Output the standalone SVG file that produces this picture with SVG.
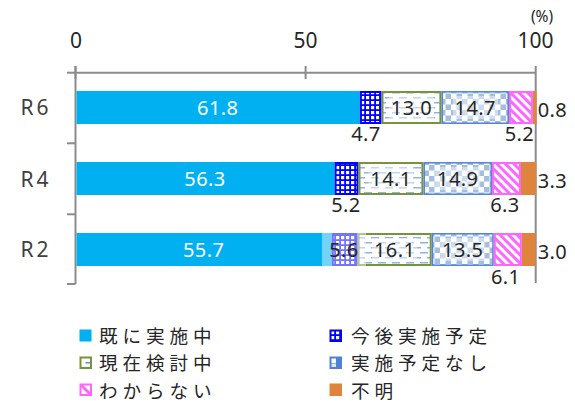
<svg xmlns="http://www.w3.org/2000/svg" width="575" height="403" viewBox="0 0 575 403">
<style>
.ax{stroke:#8C8C8C;stroke-width:2;fill:none}
.num{font-family:"Noto Sans","Liberation Sans",sans-serif;font-size:20px;fill:#262626;text-anchor:middle;letter-spacing:0.4px}
.wnum{font-family:"Noto Sans","Liberation Sans",sans-serif;font-size:20px;fill:#fff;text-anchor:middle;letter-spacing:0.4px}
.axl{font-family:"Noto Sans","Liberation Sans",sans-serif;font-size:21px;fill:#262626;text-anchor:middle}
.cat{font-family:"Noto Sans","Liberation Sans",sans-serif;font-size:21px;fill:#404040;text-anchor:middle;letter-spacing:3px}
.leg{font-family:"Noto Sans CJK JP","Noto Sans",sans-serif;font-size:18.6px;fill:#262626;letter-spacing:4.9px}
.lb{fill:#fff;fill-opacity:0.45}
.s1{fill:#00B0F0}
.s2{fill:url(#pGrid);stroke:#0000FF;stroke-width:2}
.s3{fill:url(#pDash);stroke:#77933C;stroke-width:2}
.s4{fill:url(#pCheck);stroke:#4F81D6;stroke-width:1.5}
.s5{fill:url(#pDiag);stroke:#FF66FF;stroke-width:2}
.s6{fill:#DE843C}
</style>
<defs>
<pattern id="pGrid" width="5" height="5" patternUnits="userSpaceOnUse"><rect width="5" height="5" fill="#0000FF"/><rect x="1" y="1" width="3.2" height="3.2" fill="#fff"/></pattern>
<pattern id="pDash" width="14" height="10" patternUnits="userSpaceOnUse"><rect width="14" height="10" fill="#fff"/><rect x="0" y="2" width="8" height="1.5" fill="#8EB4E3"/><rect x="7" y="7" width="7" height="1.5" fill="#8EB4E3"/><rect x="0" y="7" width="1" height="1.5" fill="#8EB4E3"/></pattern>
<pattern id="pCheck" width="11" height="11" patternUnits="userSpaceOnUse"><rect width="11" height="11" fill="#fff"/><rect width="5.5" height="5.5" fill="#A3BEE1"/><rect x="5.5" y="5.5" width="5.5" height="5.5" fill="#A3BEE1"/></pattern>
<pattern id="pDiag" width="6" height="6" patternUnits="userSpaceOnUse" patternTransform="rotate(-45)"><rect width="6" height="6" fill="#fff"/><rect width="3" height="6" fill="#FF66FF"/></pattern>
</defs>

<g id="axes">
<line class="ax" x1="75.5" y1="72.7" x2="535.7" y2="72.7"/>
<line class="ax" x1="75.5" y1="66" x2="75.5" y2="79"/>
<line class="ax" x1="305.6" y1="66" x2="305.6" y2="79"/>
<line class="ax" x1="535.7" y1="66" x2="535.7" y2="283"/>
<line class="ax" x1="75.5" y1="66" x2="75.5" y2="284"/>
<line class="ax" x1="67" y1="72.7" x2="75.5" y2="72.7"/>
<line class="ax" x1="67" y1="143.3" x2="75.5" y2="143.3"/>
<line class="ax" x1="67" y1="214.3" x2="75.5" y2="214.3"/>
<line class="ax" x1="67" y1="284" x2="75.5" y2="284"/>
<text class="axl" x="76" y="48">0</text>
<text class="axl" x="305.6" y="48">50</text>
<text class="axl" x="535.5" y="48">100</text>
<text class="axl" x="542" y="21.5" style="font-size:15.5px">(%)</text>
<text class="cat" x="36" y="115">R6</text>
<text class="cat" x="36" y="186.5">R4</text>
<text class="cat" x="36" y="257">R2</text>
</g>

<g id="connectors"></g>

<g id="bar-R6">
<rect class="s1" x="76.5" y="91" width="283.4" height="33"/>
<rect class="s2" x="360.9" y="92" width="19.6" height="31"/>
<rect class="s3" x="382.5" y="92" width="57.9" height="31"/>
<rect class="s4" x="442.2" y="91.8" width="66" height="31.4"/>
<rect class="s5" x="510" y="92" width="21.9" height="31"/>
<rect class="s6" x="532.9" y="91" width="3.7" height="33"/>
<text class="wnum" x="217.7" y="114.5">61.8</text>
<rect class="lb" x="389" y="96" width="45" height="23"/>
<text class="num" x="411.5" y="114.5">13.0</text>
<rect class="lb" x="453" y="96" width="45" height="23"/>
<text class="num" x="475.2" y="114.5">14.7</text>
<text class="num" x="366" y="141">4.7</text>
<text class="num" x="519.5" y="141">5.2</text>
<text class="num" x="552.5" y="117">0.8</text>
</g>

<g id="bar-R4">
<rect class="s1" x="76.5" y="162" width="258.1" height="33"/>
<rect class="s2" x="335.6" y="163" width="21.9" height="31"/>
<rect class="s3" x="359.5" y="163" width="62.9" height="31"/>
<rect class="s4" x="424.2" y="162.8" width="67" height="31.4"/>
<rect class="s5" x="493" y="163" width="27" height="31"/>
<rect class="s6" x="521" y="162" width="15.2" height="33"/>
<text class="wnum" x="205" y="185.5">56.3</text>
<rect class="lb" x="368.5" y="167" width="45" height="23"/>
<text class="num" x="391" y="185.5">14.1</text>
<rect class="lb" x="435.2" y="167" width="45" height="23"/>
<text class="num" x="457.7" y="185.5">14.9</text>
<text class="num" x="346" y="212">5.2</text>
<text class="num" x="505" y="212">6.3</text>
<text class="num" x="552.5" y="188">3.3</text>
</g>

<g id="bar-R2">
<rect class="s1" x="76.5" y="233" width="255.3" height="33"/>
<rect class="s2" x="332.8" y="234" width="23.8" height="31"/>
<rect class="s3" x="358.6" y="234" width="72.1" height="31"/>
<rect class="s4" x="432.5" y="233.8" width="60.5" height="31.4"/>
<rect class="s5" x="494.8" y="234" width="26.1" height="31"/>
<rect class="s6" x="521.9" y="233" width="13.8" height="33"/>
<text class="wnum" x="203.6" y="256.5">55.7</text>
<rect class="lb" x="322" y="233" width="44" height="33"/>
<text class="num" x="344" y="256.5">5.6</text>
<rect class="lb" x="372" y="238" width="45" height="23"/>
<text class="num" x="394.6" y="256.5">16.1</text>
<rect class="lb" x="440.2" y="238" width="45" height="23"/>
<text class="num" x="462.7" y="256.5">13.5</text>
<text class="num" x="505.7" y="283.5">6.1</text>
<text class="num" x="552.5" y="259">3.0</text>
</g>

<g id="legend-1">
<rect class="s1" x="79.5" y="329.5" width="12" height="12"/>
<text class="leg" x="99" y="342.5">既に実施中</text>
</g>
<g id="legend-2">
<rect class="s2" x="330.5" y="330.5" width="10.5" height="10.5"/>
<text class="leg" x="351" y="342.5">今後実施予定</text>
</g>
<g id="legend-3">
<rect x="80.5" y="357.5" width="10.5" height="10.5" fill="#fff" stroke="#77933C" stroke-width="2"/>
<rect x="85.5" y="362" width="5" height="1.5" fill="#5B8FD9"/>
<text class="leg" x="99" y="370">現在検討中</text>
</g>
<g id="legend-4">
<rect x="330.5" y="357.5" width="10.5" height="10.5" fill="#4F81D6" stroke="#4F81D6" stroke-width="2"/>
<rect x="331.5" y="358.5" width="4.5" height="4.5" fill="#fff"/>
<rect x="331.5" y="363.5" width="4.5" height="3.5" fill="#DCE6F4"/>
<text class="leg" x="351" y="370">実施予定なし</text>
</g>
<g id="legend-5">
<rect x="80.5" y="384.5" width="10.5" height="10.5" fill="#fff" stroke="#FF66FF" stroke-width="2"/>
<path d="M81.5,385.5 L90,394" stroke="#FF66FF" stroke-width="3"/>
<text class="leg" x="99" y="397.5">わからない</text>
</g>
<g id="legend-6">
<rect class="s6" x="329.5" y="383.5" width="12.5" height="12.5"/>
<text class="leg" x="351" y="397.5">不明</text>
</g>
</svg>
